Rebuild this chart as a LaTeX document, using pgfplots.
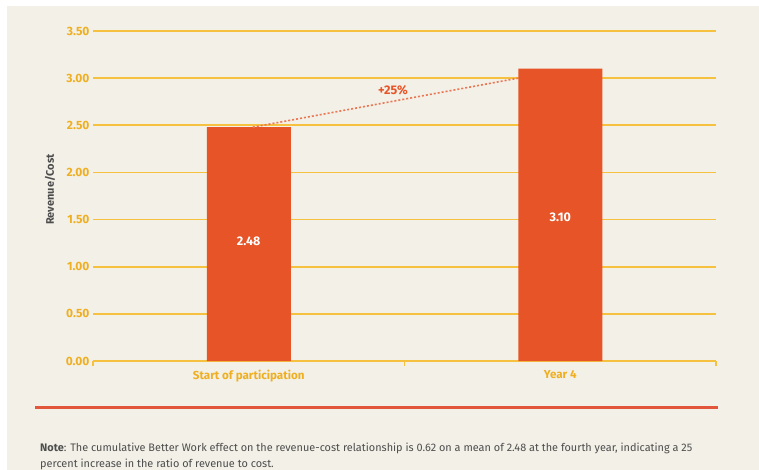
\documentclass[border=0pt]{standalone}
\usepackage{fontspec}
\setmainfont{Fira Sans}
\usepackage{pgfplots}
\pgfplotsset{compat=1.18}
\usetikzlibrary{backgrounds}
\definecolor{cream}{HTML}{F3F0E7}
\definecolor{gold}{HTML}{F5C13E}
\definecolor{goldtext}{HTML}{EFAF22}
\definecolor{barred}{HTML}{E65427}
\definecolor{rulered}{HTML}{E2573B}
\definecolor{notegray}{HTML}{4D4D4D}

\begin{document}
\begin{tikzpicture}[x=1pt,y=1pt]
  \begin{axis}[
    at={(93pt,-361pt)}, anchor=south west,
    scale only axis, width=623pt, height=330pt,
    xmin=-0.5, xmax=1.5, ymin=0, ymax=3.5,
    axis x line*=bottom, axis y line*=left,
    x axis line style={-, draw=gold, line width=1.6pt},
    y axis line style={draw=none},
    ytick={0,0.5,1,1.5,2,2.5,3,3.5},
    ytick style={draw=none},
    ymajorgrids, grid style={gold, line width=1.6pt},
    yticklabel style={font=\bfseries\fontsize{12}{13}\selectfont, text=goldtext,
      /pgf/number format/fixed, /pgf/number format/fixed zerofill,
      /pgf/number format/precision=2, /pgf/number format/assume math mode=true},
    xtick={0,1}, xticklabels={Start of participation, Year 4},
    xtick style={draw=none},
    xticklabel style={font=\bfseries\fontsize{11.6}{13}\selectfont, text=goldtext, yshift=-6pt},
    extra x ticks={-0.5,0.5,1.5}, extra x tick labels={},
    extra x tick style={xtick style={draw=gold, line width=1.2pt}, major tick length=5pt, tick align=outside},
    ylabel={Revenue/Cost},
    ylabel style={at={(axis description cs:-0.069,0.52)}, anchor=center,
      font=\bfseries\fontsize{11}{12}\selectfont, text=notegray},
  ]
    \addplot[ybar, bar width=84pt, fill=barred, draw=none] coordinates {(0,2.48) (1,3.10)};
    \addplot[color=barred!80!white, line width=1.6pt, dash pattern=on 2pt off 2pt] coordinates {(0.013,2.48) (0.865,3.0)};
    \node[text=white, font=\bfseries\fontsize{12.5}{13}\selectfont] at (axis cs:0,1.27) {2.48};
    \node[text=white, font=\bfseries\fontsize{12.5}{13}\selectfont] at (axis cs:1,1.52) {3.10};
    \node[text=barred, font=\bfseries\fontsize{12.5}{13}\selectfont] at (axis cs:0.463,2.875) {+25\%};
  \end{axis}
  \begin{scope}[on background layer]
    \fill[white] (0,0) rectangle (759,-470);
    \fill[cream] (7,-6) rectangle (759,-470);
  \end{scope}
  \draw[rulered, line width=3pt] (35,-407.5) -- (718,-407.5);
  \node[anchor=base west, inner sep=0pt, text=notegray, font=\fontsize{10.9}{12}\selectfont] at (40,-451.5)
    {\textbf{Note}: The cumulative Better Work effect on the revenue-cost relationship is 0.62 on a mean of 2.48 at the fourth year, indicating a 25};
  \node[anchor=base west, inner sep=0pt, text=notegray, font=\fontsize{10.9}{12}\selectfont] at (40,-467)
    {percent increase in the ratio of revenue to cost.};
  \pgfresetboundingbox
  \useasboundingbox (0,0) rectangle (759,-470);
\end{tikzpicture}
\end{document}
